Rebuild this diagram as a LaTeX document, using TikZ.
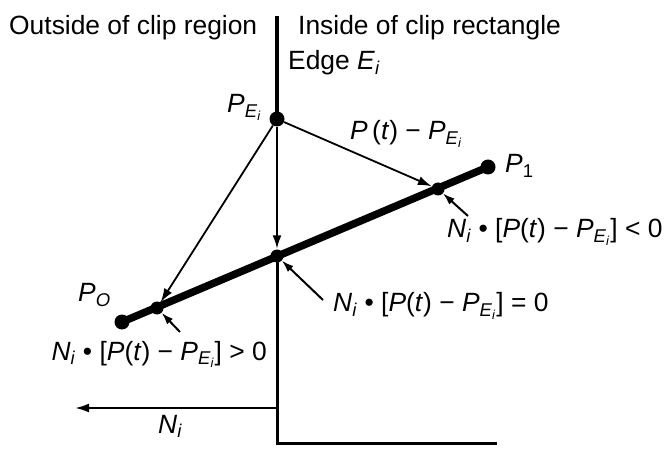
\documentclass[tikz,border=0pt]{standalone}
\usepackage{fontspec}
\setmainfont{Liberation Sans}
\usetikzlibrary{arrows.meta}
\newcommand{\vPE}{\textit{P}\textsubscript{\textit{E}\textsubscript{\textit{i}}}}
\newcommand{\vN}{\textit{N}\textsubscript{\textit{i}}}
\newcommand{\vPt}{\textit{P}(\textit{t})}
\tikzset{
  lbl/.style={anchor=base west, inner sep=0pt, font=\fontsize{26.5}{31}\selectfont},
  edgeline/.style={line width=3.5bp},
  segline/.style={line width=7.5bp, line cap=round},
  vec/.style={line width=1.8bp, -{Latex[length=14bp,width=9bp]}},
  ptr/.style={line width=2bp, -{Latex[length=12bp,width=8bp]}},
  bigdot/.style={circle, fill=black, inner sep=0pt, minimum size=15bp},
  smalldot/.style={circle, fill=black, inner sep=0pt, minimum size=13bp}
}
\begin{document}
\begin{tikzpicture}[x=1bp,y=-1bp]
\useasboundingbox (0,0) rectangle (670,453);
% points
\coordinate (top) at (277,16);
\node[bigdot] (pe) at (277,119) {};
\node[bigdot] (p0) at (122,322) {};
\node[bigdot] (p1) at (488,167) {};
\node[smalldot] (m0) at (277,256) {};
\node[smalldot] (m1) at (438,189) {};
\node[smalldot] (m2) at (157,308) {};
\coordinate (bl) at (277,443);
\coordinate (br) at (497,443);
\coordinate (nstart) at (277,408);
\coordinate (nend) at (75,408);
% edge
\draw[edgeline] (top) -- (pe.center);
\draw[edgeline, line width=3bp] (m0.center) -- (bl) -- (br);
% thick segment
\draw[segline] (p0.center) -- (p1.center);
% vectors from P_Ei
\draw[vec, line width=2.6bp] (pe) -- (m0);
\draw[vec] (pe) -- (m1);
\draw[vec] (pe) -- (m2);
% normal
\draw[vec, line width=2.2bp] (nstart) -- (nend);
% pointers
\coordinate (a1) at (468,216);
\coordinate (a2) at (323,300);
\coordinate (a3) at (180,332);
\draw[ptr] (a1) -- (m1);
\draw[ptr] (a2) -- (m0);
\draw[ptr] (a3) -- (m2);
% labels
\node[lbl] (tout) at (9,35) {Outside of clip region};
\node[lbl] (tin) at (298,35) {Inside of clip rectangle};
\node[lbl] (tedge) at (288,70) {Edge \textit{E}\textsubscript{\textit{i}}};
\node[lbl] (lpe) at (227,113) {\vPE};
\node[lbl] (ldiff) at (350,140) {\textit{P}\,(\textit{t}) − \vPE};
\node[lbl] (lp1) at (505,173) {\textit{P}\textsubscript{1}};
\node[lbl] (lneg) at (447,238) {\vN\ • [\vPt\ − \vPE] < 0};
\node[lbl] (lzero) at (333,312) {\vN\ • [\vPt\ − \vPE] = 0};
\node[lbl] (lp0) at (78,302) {\textit{P}\textsubscript{\textit{O}}};
\node[lbl, anchor=base east] (lpos) at (267,360) {\vN\ • [\vPt\ − \vPE] > 0};
\node[lbl] (lni) at (158,433) {\vN};
\end{tikzpicture}
\end{document}
